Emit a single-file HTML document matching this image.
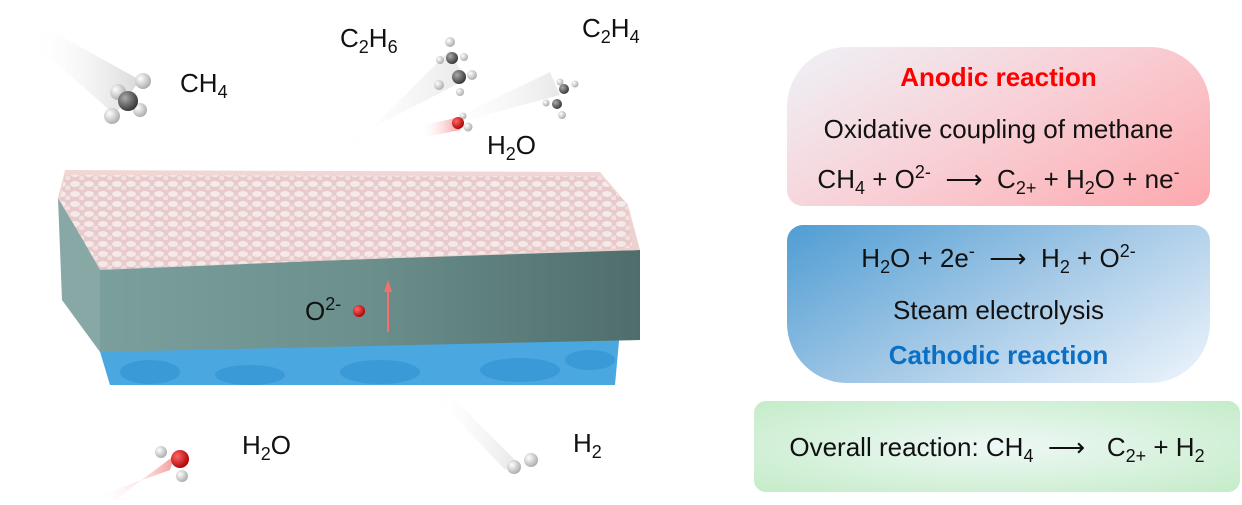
<!DOCTYPE html>
<html><head><meta charset="utf-8"><style>
body{margin:0;width:1242px;height:505px;background:#fff;overflow:hidden;position:relative;font-family:"Liberation Sans",Arial,sans-serif;color:#111}
.t{position:absolute;font-size:26px;white-space:nowrap;line-height:1}
sub{font-size:18px;vertical-align:-6px;line-height:0}
sup{font-size:18px;vertical-align:10px;line-height:0}
.box{position:absolute;text-align:center}
.box div{position:absolute;left:0;right:0;font-size:26px;white-space:nowrap;line-height:1}
</style></head><body>
<svg width="1242" height="505" style="position:absolute;left:0;top:0">
<defs>
<linearGradient id="tr" x1="0" y1="0" x2="1" y2="0"><stop offset="0" stop-color="#fff" stop-opacity="0"/><stop offset="1" stop-color="#aaa" stop-opacity=".45"/></linearGradient>
<linearGradient id="trr" x1="0" y1="0" x2="1" y2="0"><stop offset="0" stop-color="#fff" stop-opacity="0"/><stop offset="1" stop-color="#e33" stop-opacity=".5"/></linearGradient>
<linearGradient id="front" x1="0" y1="0" x2="1" y2="0"><stop offset="0" stop-color="#7a9f9c"/><stop offset=".5" stop-color="#6b8f8c"/><stop offset="1" stop-color="#4f6d6b"/></linearGradient>
<linearGradient id="pink" x1="0" y1="0" x2="0" y2="1"><stop offset="0" stop-color="#f0d6d4"/><stop offset="1" stop-color="#ecd0ce"/></linearGradient>
<radialGradient id="ball" cx=".35" cy=".35" r=".7"><stop offset="0" stop-color="#fff"/><stop offset="1" stop-color="#aaa"/></radialGradient>
<radialGradient id="cball" cx=".35" cy=".35" r=".7"><stop offset="0" stop-color="#aaa"/><stop offset="1" stop-color="#333"/></radialGradient>
<radialGradient id="oball" cx=".35" cy=".35" r=".7"><stop offset="0" stop-color="#f66"/><stop offset="1" stop-color="#a00"/></radialGradient>
<pattern id="foam" width="14" height="10" patternUnits="userSpaceOnUse"><rect width="14" height="10" fill="#e6c9c8"/><ellipse cx="5" cy="4" rx="5" ry="3" fill="#f5ecec"/><ellipse cx="12" cy="8" rx="3" ry="2.5" fill="#f1e2e1"/></pattern>
</defs>
<polygon points="30,40 50,30 140,80 115,115" fill="url(#tr)"/>
<polygon points="330,150 350,150 450,50 465,80" fill="url(#tr)" opacity=".6"/>
<polygon points="430,130 440,125 550,72 560,95" fill="url(#tr)" opacity=".6"/>
<polygon points="420,138 425,125 455,118 460,130" fill="url(#trr)"/>
<polygon points="100,495 115,500 175,455 170,470" fill="url(#trr)"/>
<polygon points="430,390 440,385 515,460 505,470" fill="url(#tr)" opacity=".6"/>
<polygon points="95,335 620,330 615,385 110,385" fill="#4aa7e0"/>
<g fill="#3a9ad8"><ellipse cx="150" cy="372" rx="30" ry="12"/><ellipse cx="250" cy="375" rx="35" ry="10"/><ellipse cx="380" cy="372" rx="40" ry="12"/><ellipse cx="520" cy="370" rx="40" ry="12"/><ellipse cx="590" cy="360" rx="25" ry="10"/></g>
<polygon points="58,198 100,268 100,352 62,300" fill="#88a8a5"/>
<polygon points="100,262 640,250 640,340 100,352" fill="url(#front)"/>
<polygon points="58,198 65,170 600,172 628,205 640,250 100,268" fill="url(#pink)"/>
<polygon points="65,175 600,176 628,205 632,248 100,270 60,200" fill="url(#foam)" opacity=".9"/>
<line x1="388" y1="332" x2="388" y2="288" stroke="#f47070" stroke-width="2"/>
<polygon points="384,292 392,292 388,280" fill="#f47070"/>
<circle cx="359" cy="311" r="6" fill="url(#oball)"/>
<g><circle cx="118" cy="92" r="8" fill="url(#ball)"/><circle cx="143" cy="81" r="8" fill="url(#ball)"/><circle cx="140" cy="110" r="7" fill="url(#ball)"/><circle cx="112" cy="116" r="8" fill="url(#ball)"/><circle cx="128" cy="101" r="10" fill="url(#cball)"/></g>
<g><circle cx="450" cy="42" r="5" fill="url(#ball)"/><circle cx="440" cy="60" r="4" fill="url(#ball)"/><circle cx="464" cy="57" r="4" fill="url(#ball)"/><circle cx="472" cy="75" r="5" fill="url(#ball)"/><circle cx="439" cy="85" r="5" fill="url(#ball)"/><circle cx="460" cy="92" r="4" fill="url(#ball)"/><circle cx="452" cy="58" r="6" fill="url(#cball)"/><circle cx="459" cy="77" r="7" fill="url(#cball)"/></g>
<g><circle cx="560" cy="82" r="3.5" fill="url(#ball)"/><circle cx="575" cy="84" r="3.5" fill="url(#ball)"/><circle cx="546" cy="103" r="3.5" fill="url(#ball)"/><circle cx="562" cy="115" r="4" fill="url(#ball)"/><circle cx="564" cy="89" r="5" fill="url(#cball)"/><circle cx="557" cy="104" r="5" fill="url(#cball)"/></g>
<g><circle cx="463" cy="116" r="3.5" fill="url(#ball)"/><circle cx="468" cy="127" r="4.5" fill="url(#ball)"/><circle cx="458" cy="123" r="6" fill="url(#oball)"/></g>
<g><circle cx="161" cy="452" r="6" fill="url(#ball)"/><circle cx="182" cy="476" r="6" fill="url(#ball)"/><circle cx="180" cy="459" r="9" fill="url(#oball)"/></g>
<g><circle cx="514" cy="467" r="7" fill="url(#ball)"/><circle cx="531" cy="460" r="7" fill="url(#ball)"/></g>
</svg>
<div class="t" style="left:180px;top:70px">CH<sub>4</sub></div>
<div class="t" style="left:340px;top:25px">C<sub>2</sub>H<sub>6</sub></div>
<div class="t" style="left:582px;top:15px">C<sub>2</sub>H<sub>4</sub></div>
<div class="t" style="left:487px;top:132px">H<sub>2</sub>O</div>
<div class="t" style="left:305px;top:298px">O<sup>2-</sup></div>
<div class="t" style="left:242px;top:432px">H<sub>2</sub>O</div>
<div class="t" style="left:573px;top:430px">H<sub>2</sub></div>

<div class="box" style="left:787px;top:47px;width:423px;height:159px;border-radius:60px 60px 16px 16px;background:linear-gradient(150deg,#eef2f7 0%,#f8cfd5 50%,#fca9ae 100%)">
<div style="top:17px;color:#f00;font-weight:bold">Anodic reaction</div>
<div style="top:69px">Oxidative coupling of methane</div>
<div style="top:119px">CH<sub>4</sub> + O<sup>2-</sup> &nbsp;⟶&nbsp; C<sub>2+</sub> + H<sub>2</sub>O + ne<sup>-</sup></div>
</div>
<div class="box" style="left:787px;top:225px;width:423px;height:158px;border-radius:16px 16px 60px 60px;background:linear-gradient(150deg,#4f9dd3 0%,#a3c8e6 50%,#eef5fc 100%)">
<div style="top:20px">H<sub>2</sub>O + 2e<sup>-</sup> &nbsp;⟶&nbsp; H<sub>2</sub> + O<sup>2-</sup></div>
<div style="top:72px">Steam electrolysis</div>
<div style="top:117px;color:#0b6fc4;font-weight:bold">Cathodic reaction</div>
</div>
<div class="box" style="left:754px;top:401px;width:486px;height:91px;border-radius:12px;background:radial-gradient(ellipse at 50% 50%,#eef8f6 0%,#c4ecc8 100%)">
<div style="top:33px">Overall reaction: CH<sub>4</sub> &nbsp;⟶&nbsp; &nbsp;C<sub>2+</sub> + H<sub>2</sub></div>
</div>
</body></html>
